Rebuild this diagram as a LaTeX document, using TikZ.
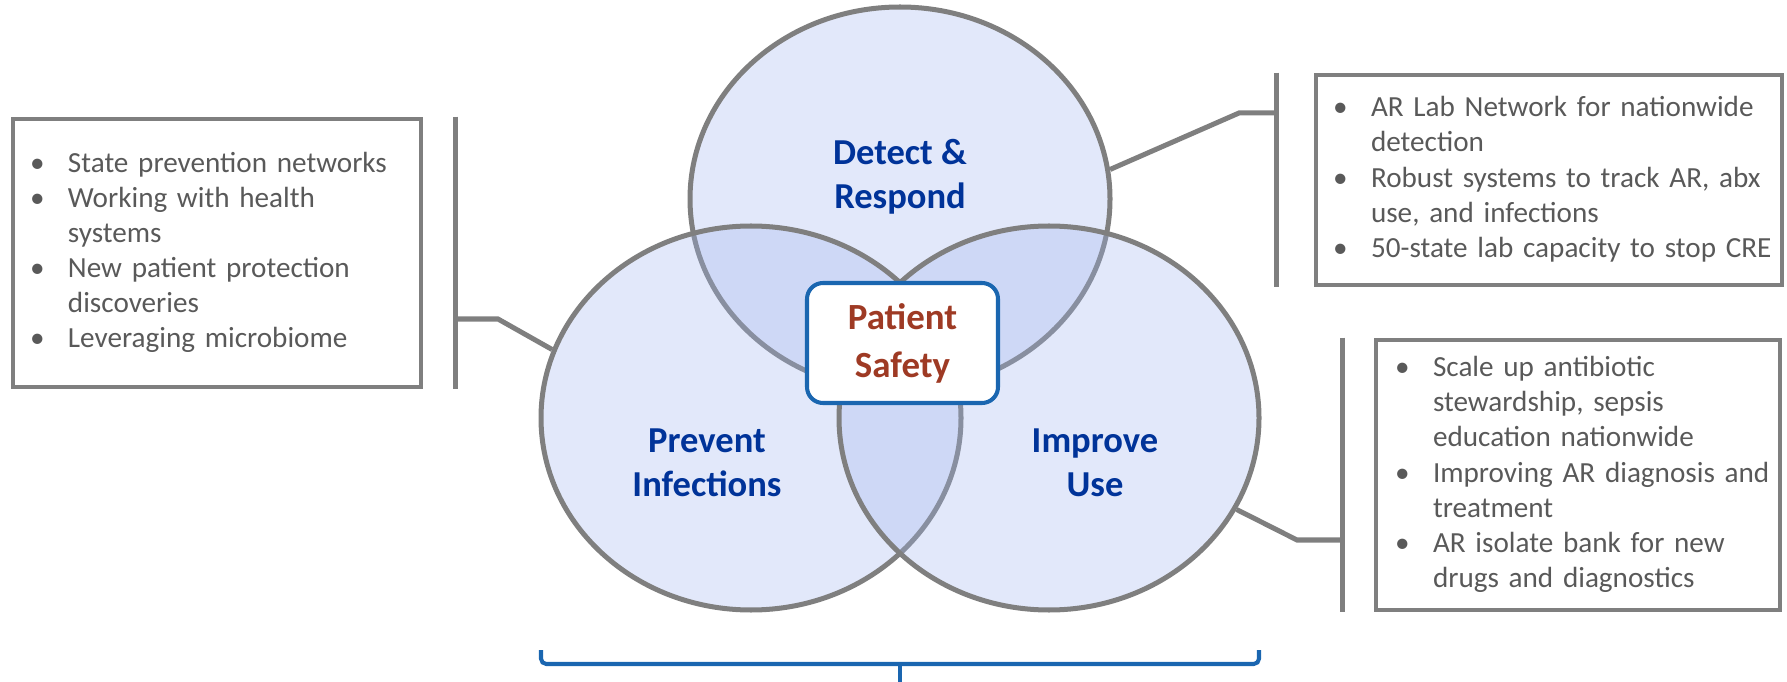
\documentclass[tikz,border=0pt]{standalone}
\usepackage{fontspec}
\setmainfont{Carlito}
\usetikzlibrary{shapes.geometric,positioning}

\definecolor{vennfill}{RGB}{160,180,238}
\definecolor{ringgray}{RGB}{127,127,127}
\definecolor{titleblue}{RGB}{0,51,153}
\definecolor{safetyred}{RGB}{158,58,36}
\definecolor{frameblue}{RGB}{26,102,176}
\definecolor{bodygray}{RGB}{89,89,89}

\tikzset{
  venn/.style={ellipse, minimum width=8.4cm, minimum height=7.68cm, inner sep=0pt,
    draw=ringgray, line width=2.85pt, fill=vennfill, fill opacity=0.3},
  area/.style={text=titleblue, align=center, inner sep=0pt,
    font=\bfseries\fontsize{20.8}{25}\selectfont},
  infobox/.style={draw=ringgray, line width=2.6pt, text=bodygray, align=left,
    inner ysep=0pt, inner xsep=0.34cm, font=\fontsize{16.6}{20}\selectfont},
  bar/.style={ringgray, line width=2.85pt},
  bracket/.style={frameblue, line width=2.3pt, rounded corners=3pt},
}

\begin{document}
\begin{tikzpicture}
\useasboundingbox (0,0) rectangle (35.74,13.62);

\node[venn] (detect) at (18,9.64) {};
\node[venn] (prevent) at (15.02,5.26) {};
\node[venn] (improve) at (20.98,5.26) {};

\node[area] (detectlbl) at ([yshift=0.45cm]detect.center) {Detect \&\\Respond};
\node[area] (preventlbl) at ([shift={(-0.88,-0.9)}]prevent.center) {Prevent\\Infections};
\node[area] (improvelbl) at ([shift={(0.92,-0.9)}]improve.center) {Improve\\Use};

\node[draw=frameblue, line width=2.3pt, fill=white, rounded corners=0.32cm,
  minimum width=3.82cm, minimum height=2.4cm, text=safetyred, align=center,
  font=\bfseries\fontsize{21}{27.3}\selectfont] (safety) at (18.05,6.76) {Patient\\Safety};

\node[infobox, text width=7.48cm, minimum height=5.36cm] (preventbox) at (4.34,8.56) {%
\begin{tabular}{@{}p{0.76cm}@{}l@{}}
\textbullet & State prevention networks\\
\textbullet & Working with health\\
 & systems\\
\textbullet & New patient protection\\
 & discoveries\\
\textbullet & Leveraging microbiome
\end{tabular}};

\node[infobox, text width=8.64cm, minimum height=4.2cm] (detectbox) at (30.98,10.02) {%
\begin{tabular}{@{}p{0.76cm}@{}l@{}}
\textbullet & AR Lab Network for nationwide\\
 & detection\\
\textbullet & Robust systems to track AR, abx\\
 & use, and infections\\
\textbullet & 50-state lab capacity to stop CRE
\end{tabular}};

\node[infobox, inner xsep=0.38cm, text width=7.32cm, minimum height=5.4cm] (improvebox) at (31.56,4.12) {%
\begin{tabular}{@{}p{0.76cm}@{}l@{}}
\textbullet & Scale up antibiotic\\
 & stewardship, sepsis\\
 & education nationwide\\
\textbullet & Improving AR diagnosis and\\
 & treatment\\
\textbullet & AR isolate bank for new\\
 & drugs and diagnostics
\end{tabular}};

\coordinate (pbar) at (9.10,7.24);
\coordinate (pknee) at (9.96,7.24);
\coordinate (dbar) at (25.52,11.36);
\coordinate (dknee) at (24.78,11.36);
\coordinate (ibar) at (26.84,2.82);
\coordinate (iknee) at (25.94,2.82);

\foreach \bx/\bb/\kk/\tg in {preventbox/pbar/pknee/prevent.161,
    detectbox/dbar/dknee/detect.8, improvebox/ibar/iknee/improve.-26}{
\draw[bar] (\bb |- \bx.north) -- (\bb |- \bx.south);
\draw[bar] (\bb) -- (\kk) -- (\tg);
}

\draw[bracket] (10.82,0.62) |- (18,0.34) -| (25.18,0.62);
\draw[bracket] (18,0.34) -- (18,-0.1);
\end{tikzpicture}
\end{document}
